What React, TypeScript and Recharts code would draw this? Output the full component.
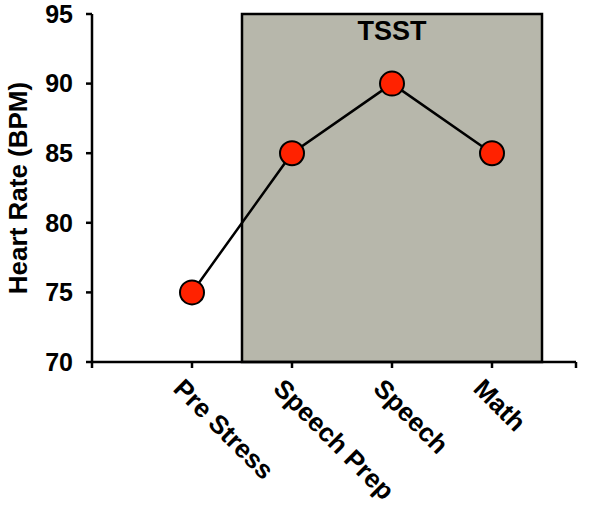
import { LineChart, Line, XAxis, YAxis, ReferenceArea } from 'recharts';

const categories = ['Pre Stress', 'Speech Prep', 'Speech', 'Math'];
const heartRate = [75, 85, 90, 85];
const yTicks = [70, 75, 80, 85, 90, 95];
const tsstStart = 1.5;
const tsstEnd = 4.5;
const axisEnd = 4.84;

const data = categories.map((name, i) => ({ x: i + 1, name, hr: heartRate[i] }));

const font = '"Liberation Sans", Arial, sans-serif';

function XTick(props: any) {
    const { x, y, payload } = props;
    const label = categories[payload.value - 1];
    if (!label) return null;
    return (
        <text
            transform={`translate(${x - 20},${y + 20}) rotate(45)`}
            textAnchor="start"
            fontFamily={font}
            fontWeight="bold"
            fontSize={26}
            fill="#000"
        >
            {label}
        </text>
    );
}

function YLabel() {
    return (
        <text
            x={18}
            y={188}
            transform="rotate(-90 18 188)"
            textAnchor="middle"
            dominantBaseline="central"
            fontFamily={font}
            fontWeight="bold"
            fontSize={26}
            fill="#000"
        >
            Heart Rate (BPM)
        </text>
    );
}

export default function App() {
    return (
        <div style={{ position: 'absolute', left: 0, top: 0, background: '#fff' }}>
            <LineChart
                width={600}
                height={506}
                data={data}
                margin={{ top: 14, right: 24, left: 0, bottom: 0 }}
            >
                <ReferenceArea
                    x1={tsstStart}
                    x2={tsstEnd}
                    y1={70}
                    y2={95}
                    fill="#b7b7ab"
                    fillOpacity={1}
                    stroke="#000"
                    strokeWidth={2.5}
                    label={{
                        value: 'TSST',
                        position: 'insideTop',
                        offset: 7,
                        fill: '#000',
                        fontSize: 27,
                        fontWeight: 'bold',
                        fontFamily: font,
                    }}
                />
                <XAxis
                    type="number"
                    dataKey="x"
                    domain={[0, axisEnd]}
                    ticks={[0, 1, 2, 3, 4, axisEnd]}
                    interval={0}
                    height={144}
                    tickSize={6}
                    tick={<XTick />}
                    stroke="#000"
                    strokeWidth={2.5}
                    allowDataOverflow
                />
                <YAxis
                    domain={[70, 95]}
                    ticks={yTicks}
                    width={92}
                    tickSize={6}
                    tickMargin={13}
                    stroke="#000"
                    strokeWidth={2.5}
                    tick={{ fill: '#000', fontSize: 25, fontWeight: 'bold', fontFamily: font }}
                    label={<YLabel />}
                />
                <Line
                    dataKey="hr"
                    stroke="#000"
                    strokeWidth={2.5}
                    isAnimationActive={false}
                    dot={{ r: 12, fill: '#ff2200', stroke: '#000', strokeWidth: 2 }}
                />
            </LineChart>
        </div>
    );
}
